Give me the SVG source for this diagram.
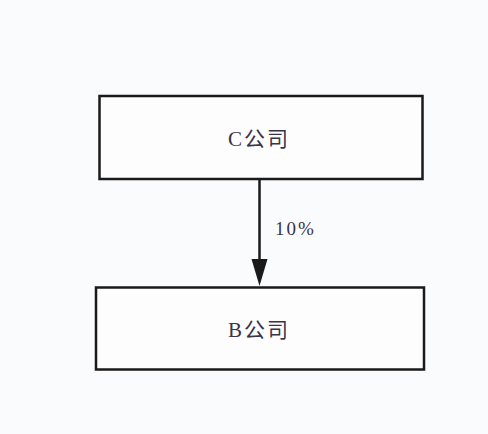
<svg xmlns="http://www.w3.org/2000/svg" width="488" height="434" viewBox="0 0 488 434">
<style>
.box{fill:#fdfdfe;stroke:#1a1a1a;stroke-width:2.5}
.lbl{font-family:"Liberation Serif","Noto Sans CJK SC",serif;font-size:21px;fill:#3a3448;text-anchor:middle;letter-spacing:2px}
.edge{stroke:#1a1a1a;stroke-width:2.5;fill:none}
</style>
<rect x="0" y="0" width="488" height="434" fill="#fafbfd"/>
<g id="connectors">
<line class="edge" x1="259.5" y1="180" x2="259.5" y2="260"/>
<path d="M251.5,259 L267.5,259 L259.5,286 Z" fill="#1a1a1a"/>
<text x="275" y="235" font-family="'Liberation Serif',serif" font-size="19" letter-spacing="2" fill="#3a3448">10%</text>
</g>
<g id="nodeC">
<rect class="box" x="99.5" y="96" width="323" height="83"/>
<text class="lbl" x="259" y="146">C公司</text>
</g>
<g id="nodeB">
<rect class="box" x="96" y="287.5" width="328" height="82"/>
<text class="lbl" x="259" y="337">B公司</text>
</g>
</svg>
